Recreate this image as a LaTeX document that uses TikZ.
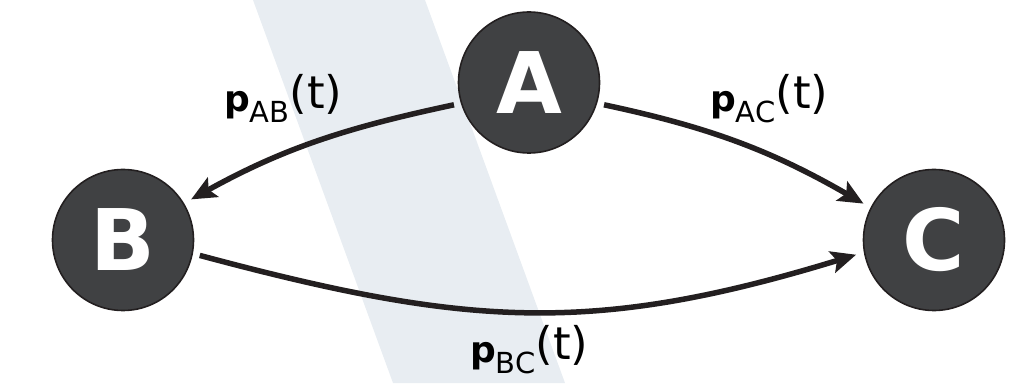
\documentclass[tikz,border=0pt]{standalone}
\usepackage{fontspec}
\setmainfont{DejaVu Sans}
\usetikzlibrary{arrows.meta}
\definecolor{bandcol}{RGB}{232,237,242}
\definecolor{nodefill}{RGB}{64,65,67}
\definecolor{inkcol}{RGB}{35,31,32}
\newcommand{\plabel}[1]{\fontsize{36}{40}\selectfont\textbf{p}\raisebox{-11pt}{\fontsize{29}{32}\selectfont #1}\raisebox{3pt}{\fontsize{45}{50}\selectfont(t)}}
\begin{document}
\begin{tikzpicture}[x=1pt,y=1pt,
  vertex/.style={circle, draw=inkcol, line width=1.6pt, fill=nodefill, minimum size=141pt, inner sep=0pt,
    text=white, font=\fontsize{85}{85}\selectfont\bfseries},
  conn/.style={draw=inkcol, line width=5.5pt, -{Stealth[length=25pt,width=22pt,inset=5pt]}, shorten >=8pt, shorten <=7pt},
  lab/.style={anchor=base west, inner sep=0pt, text=black}]
\useasboundingbox (0,0) rectangle (1025,383);
\fill[bandcol] (253,383) -- (425,383) -- (565,0) -- (393,0) -- cycle;
\node[vertex] (A) at (529,300.5) {A};
\node[vertex] (B) at (123,143) {B};
\node[vertex] (C) at (934,143) {C};
\draw[conn] (A.197) to[out=192, in=29] (B.31);
\draw[conn] (A.343) to[out=-12, in=150] (C.153);
\draw[conn] (B.349) to[out=-15, in=197, looseness=1.08] (C.190);
\node[lab] (lab) at (224,271) {\plabel{AB}};
\node[lab] (lac) at (710,271) {\plabel{AC}};
\node[lab] (lbc) at (470,21) {\plabel{BC}};
\end{tikzpicture}
\end{document}
